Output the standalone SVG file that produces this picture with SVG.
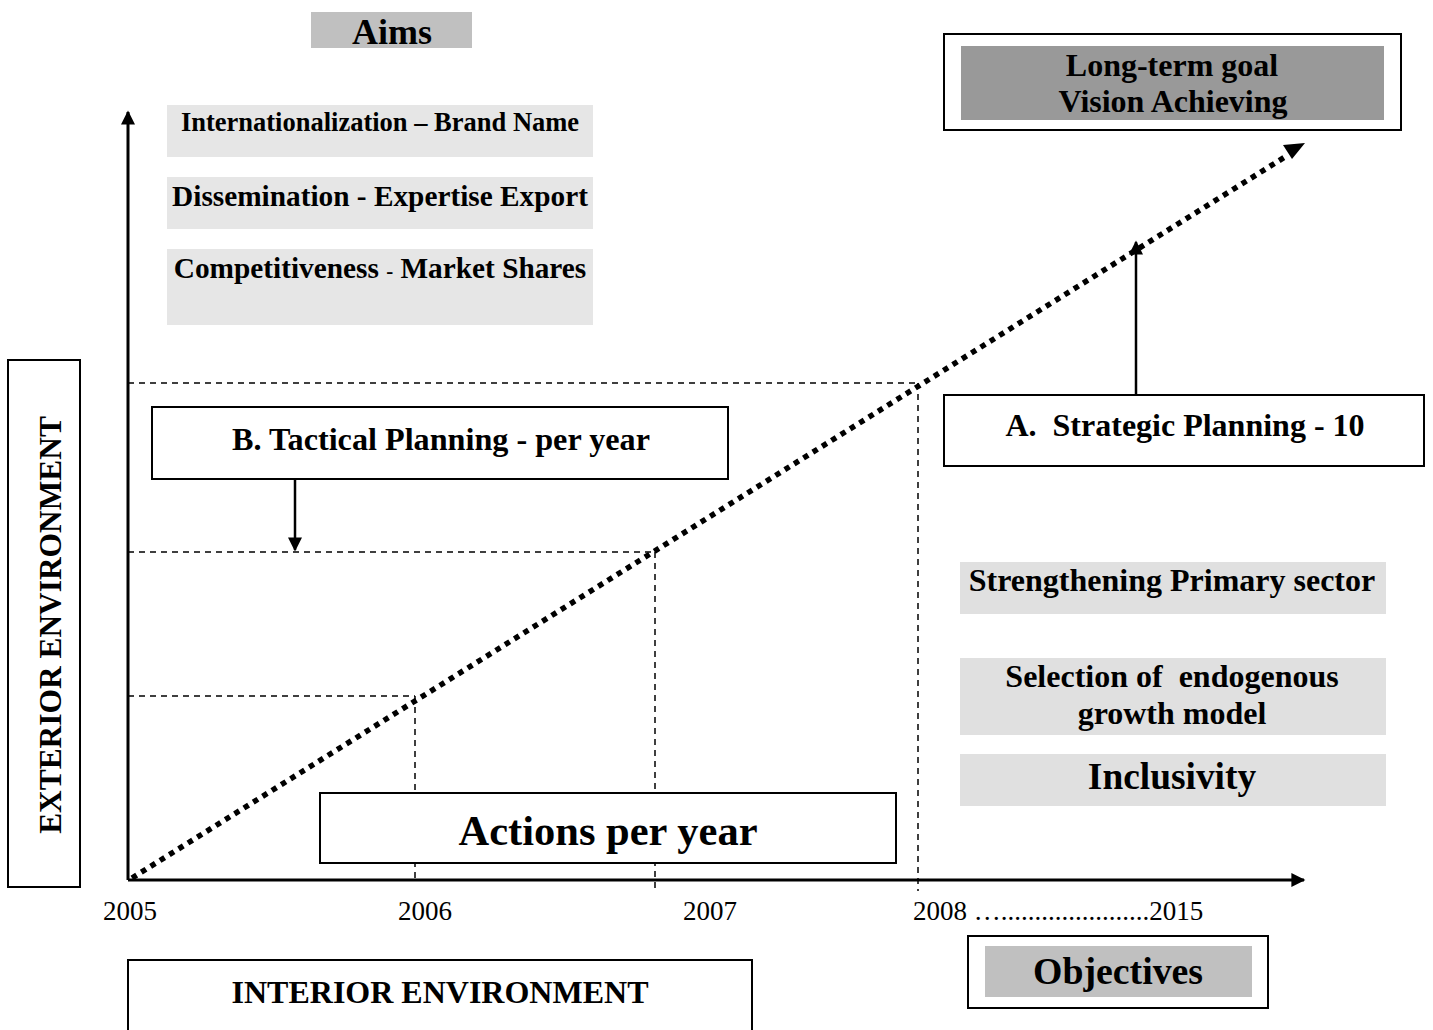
<svg xmlns="http://www.w3.org/2000/svg" width="1433" height="1030" viewBox="0 0 1433 1030" font-family="'Liberation Serif', 'Times New Roman', Times, serif">
  <style>
    .b { font-weight: bold; text-anchor: middle; }
    .yr { font-size: 27px; }
    .box { fill: #fff; stroke: #000; stroke-width: 2; }
    .aim { fill: #e6e6e6; }
    .obj { fill: #e0e0e0; }
    .guide { fill: none; stroke: #000; stroke-width: 1.5; stroke-dasharray: 6 5; }
    .axis { fill: none; stroke: #000; stroke-width: 3; }
    .link { fill: none; stroke: #000; stroke-width: 2.5; }
  </style>
  <defs>
    <marker id="triS" viewBox="0 0 10 10" refX="9" refY="5" markerWidth="16" markerHeight="14" markerUnits="userSpaceOnUse" orient="auto">
      <path d="M0,0 L10,5 L0,10 z" fill="#000"/>
    </marker>
  </defs>
  <rect width="1433" height="1030" fill="#fff"/>

  <!-- connectors: axes, guide lines, growth trend, planning arrows -->
  <g id="connectors">
    <line class="guide" x1="128" y1="383" x2="918" y2="383"/>
    <line class="guide" x1="128" y1="552" x2="655" y2="552"/>
    <line class="guide" x1="128" y1="696" x2="415" y2="696"/>
    <line class="guide" x1="415" y1="696" x2="415" y2="880"/>
    <line class="guide" x1="655" y1="552" x2="655" y2="889"/>
    <line class="guide" x1="918" y1="383" x2="918" y2="891"/>
    <line class="axis" x1="128" y1="880" x2="128" y2="112" marker-end="url(#triS)"/>
    <line class="axis" x1="128" y1="880" x2="1304" y2="880" marker-end="url(#triS)"/>
    <line x1="132" y1="878" x2="1288" y2="155" stroke="#000" stroke-width="5.5" stroke-dasharray="5.5 5.5"/>
    <path d="M1305,143 L1283,145 L1292,159 z" fill="#000"/>
    <line class="link" x1="295" y1="479" x2="295" y2="550" marker-end="url(#triS)"/>
    <line class="link" x1="1136" y1="407" x2="1136" y2="242" marker-end="url(#triS)"/>
  </g>

  <g id="aims-title">
    <rect x="311" y="12" width="161" height="36" fill="#c0c0c0"/>
    <text class="b" x="392" y="44" font-size="36">Aims</text>
  </g>

  <g id="long-term-goal">
    <rect class="box" x="944" y="34" width="457" height="96"/>
    <rect x="961" y="46" width="423" height="74" fill="#999"/>
    <text class="b" x="1172" y="76" font-size="32">Long-term goal</text>
    <text class="b" x="1173" y="112" font-size="32">Vision Achieving</text>
  </g>

  <g id="aim-internationalization">
    <rect class="aim" x="167" y="105" width="426" height="52"/>
    <text class="b" x="380" y="131" font-size="26.5">Internationalization – Brand Name</text>
  </g>
  <g id="aim-dissemination">
    <rect class="aim" x="167" y="177" width="426" height="52"/>
    <text class="b" x="380" y="206" font-size="29.3">Dissemination - Expertise Export</text>
  </g>
  <g id="aim-competitiveness">
    <rect class="aim" x="167" y="249" width="426" height="76"/>
    <text class="b" x="380" y="278" font-size="29.3">Competitiveness <tspan font-size="21">-</tspan> Market Shares</text>
  </g>

  <g id="exterior-environment">
    <rect class="box" x="8" y="360" width="72" height="527"/>
    <text class="b" x="0" y="0" font-size="31.4" transform="translate(61,625) rotate(-90)">EXTERIOR ENVIRONMENT</text>
  </g>

  <g id="tactical-planning">
    <rect class="box" x="152" y="407" width="576" height="72"/>
    <text class="b" x="441" y="450" font-size="32.2">B. Tactical Planning - per year</text>
  </g>

  <g id="strategic-planning">
    <rect class="box" x="944" y="395" width="480" height="71"/>
    <text class="b" x="1185" y="436" font-size="32" xml:space="preserve">A.  Strategic Planning - 10</text>
  </g>

  <g id="objective-primary-sector">
    <rect class="obj" x="960" y="562" width="426" height="52"/>
    <text class="b" x="1172" y="591" font-size="32">Strengthening Primary sector</text>
  </g>
  <g id="objective-growth-model">
    <rect class="obj" x="960" y="658" width="426" height="77"/>
    <text class="b" x="1172" y="687" font-size="32" xml:space="preserve">Selection of  endogenous</text>
    <text class="b" x="1172" y="724" font-size="32">growth model</text>
  </g>
  <g id="objective-inclusivity">
    <rect class="obj" x="960" y="754" width="426" height="52"/>
    <text class="b" x="1172" y="789" font-size="37.4">Inclusivity</text>
  </g>

  <g id="actions-per-year">
    <rect class="box" x="320" y="793" width="576" height="70"/>
    <text class="b" x="608" y="845" font-size="42.5">Actions per year</text>
  </g>

  <g id="years">
    <text class="yr" x="103" y="920">2005</text>
    <text class="yr" x="398" y="920">2006</text>
    <text class="yr" x="683" y="920">2007</text>
    <text class="yr" x="913" y="920">2008 …......................2015</text>
  </g>

  <g id="interior-environment">
    <rect class="box" x="128" y="960" width="624" height="80"/>
    <text class="b" x="440" y="1003" font-size="32">INTERIOR ENVIRONMENT</text>
  </g>

  <g id="objectives-title">
    <rect class="box" x="968" y="936" width="300" height="72"/>
    <rect x="985" y="946" width="267" height="51" fill="#c0c0c0"/>
    <text class="b" x="1118" y="984" font-size="37.8">Objectives</text>
  </g>
</svg>
